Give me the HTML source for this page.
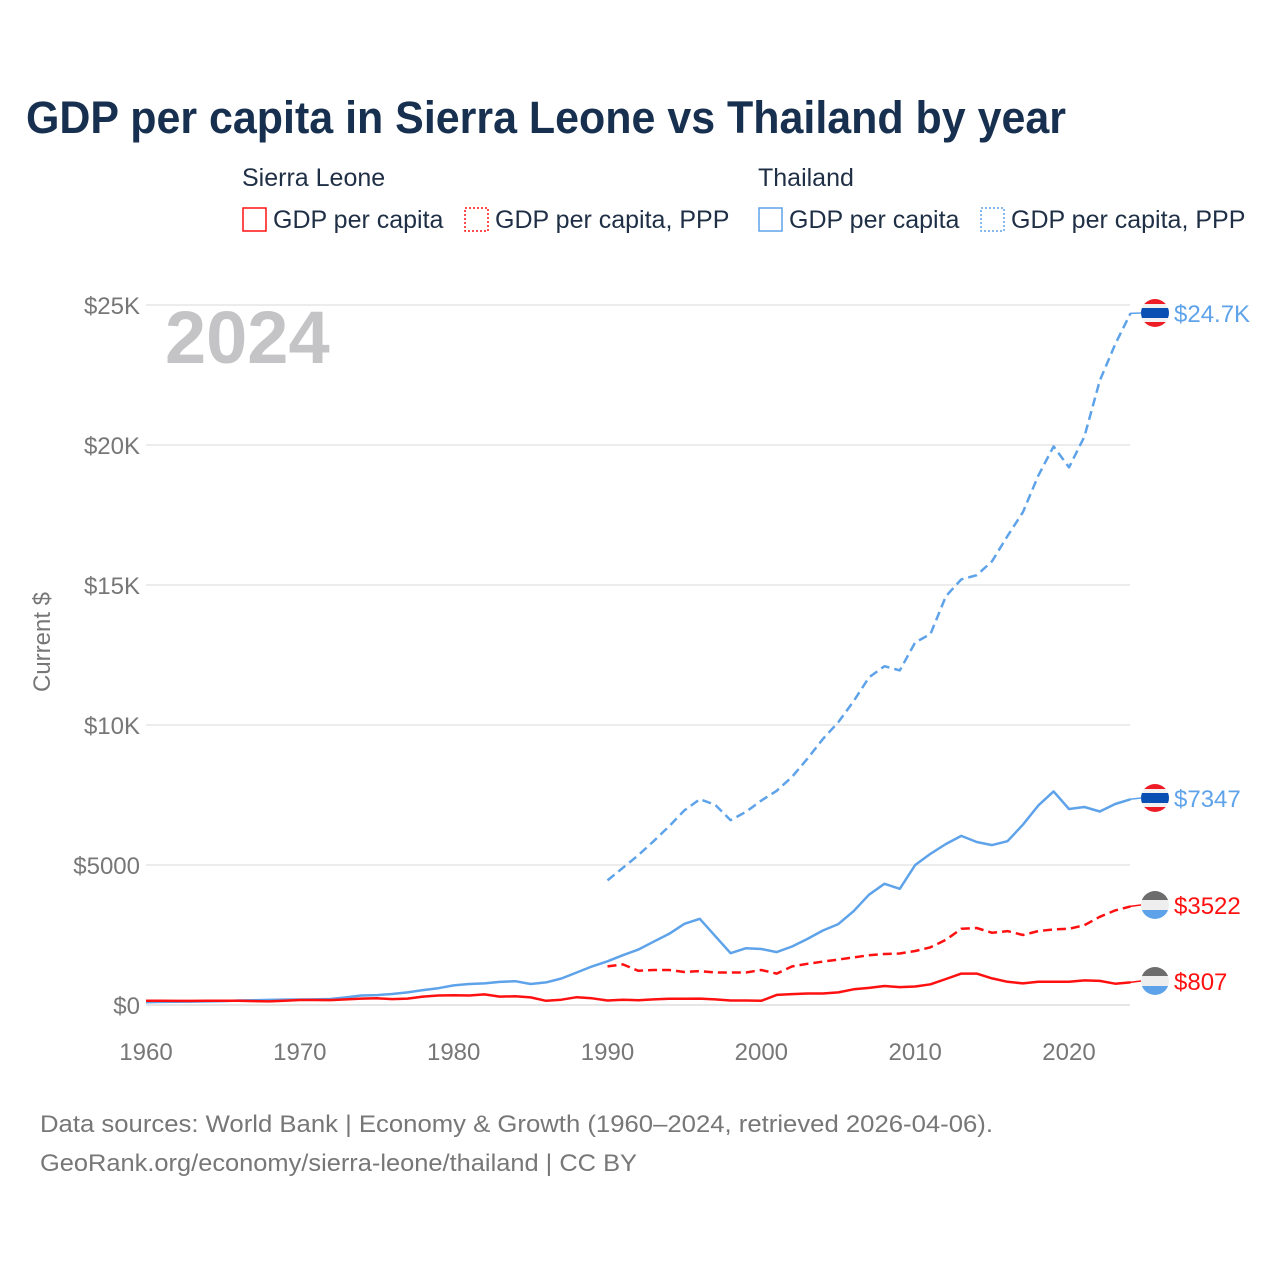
<!DOCTYPE html>
<html><head><meta charset="utf-8"><style>
body{margin:0;background:#fff;font-family:"Liberation Sans",sans-serif}
svg text{font-family:"Liberation Sans",sans-serif}
</style></head><body>
<svg width="1280" height="1280" xmlns="http://www.w3.org/2000/svg">
<text x="26" y="133" font-size="45" font-weight="bold" fill="#17304f" textLength="1040" lengthAdjust="spacingAndGlyphs">GDP per capita in Sierra Leone vs Thailand by year</text>
<g font-size="25" fill="#1f2f45">
<text x="242" y="186">Sierra Leone</text>
<text x="758" y="186">Thailand</text>
<g><rect x="243" y="208" width="23" height="23" fill="none" stroke="#ff1010" stroke-width="1.5"/><text x="273" y="228">GDP per capita</text></g>
<g><rect x="465" y="208" width="23" height="23" fill="none" stroke="#ff1010" stroke-width="1.5" stroke-dasharray="2,2"/><text x="495" y="228">GDP per capita, PPP</text></g>
<g><rect x="759" y="208" width="23" height="23" fill="none" stroke="#5ea3ea" stroke-width="1.5"/><text x="789" y="228">GDP per capita</text></g>
<g><rect x="981" y="208" width="23" height="23" fill="none" stroke="#5ea3ea" stroke-width="1.5" stroke-dasharray="2,2"/><text x="1011" y="228">GDP per capita, PPP</text></g>
</g>
<text x="165" y="363" font-size="74" font-weight="bold" fill="#c4c4c6">2024</text>
<text transform="translate(50,642) rotate(-90)" text-anchor="middle" font-size="24" fill="#777">Current $</text>
<g id="grid"></g><g id="series"></g><g id="ends"></g>
<text x="40" y="1132" font-size="24" fill="#777" textLength="953" lengthAdjust="spacingAndGlyphs">Data sources: World Bank | Economy &amp; Growth (1960–2024, retrieved 2026-04-06).</text>
<text x="40" y="1171" font-size="24" fill="#777" textLength="597" lengthAdjust="spacingAndGlyphs">GeoRank.org/economy/sierra-leone/thailand | CC BY</text>
</svg>
<script>
const yTicks=[0,5000,10000,15000,20000,25000];
const yTickLabels=["$0","$5000","$10K","$15K","$20K","$25K"];
const xTicks=[1960,1970,1980,1990,2000,2010,2020];
const slGdp=[150,150,145,145,150,150,150,140,130,150,180,180,175,200,230,240,210,230,300,340,350,340,380,300,310,270,150,190,280,240,160,190,170,200,220,220,230,200,160,160,150,360,390,410,410,450,560,610,680,640,660,740,930,1120,1120,950,830,770,830,830,830,880,860,760,807];
const thGdp=[101,110,117,122,130,140,160,170,181,192,197,199,215,271,340,352,392,450,531,600,700,750,772,826,849,750,808,945,1160,1380,1560,1780,1980,2260,2540,2900,3080,2460,1850,2030,2000,1890,2090,2360,2660,2890,3350,3940,4330,4150,5000,5400,5750,6040,5820,5710,5850,6440,7120,7630,7000,7070,6910,7180,7347];
const slPpp=[1380,1450,1220,1250,1250,1180,1210,1160,1160,1160,1250,1120,1380,1470,1550,1620,1700,1780,1820,1840,1930,2060,2330,2720,2750,2580,2640,2500,2640,2700,2720,2850,3150,3380,3522];
const thPpp=[4450,4900,5350,5850,6380,6950,7350,7150,6600,6900,7300,7650,8150,8800,9500,10100,10850,11700,12100,11950,12950,13250,14600,15200,15350,15850,16750,17600,18900,19950,19200,20300,22300,23600,24700];
const endLabels=["$24.7K","$7347","$3522","$807"];
const X=y=>146+(y-1960)*(1069-146)/60;
const Y=v=>1005-v*0.028;
const NS="http://www.w3.org/2000/svg";
function mk(t,a,p){const e=document.createElementNS(NS,t);for(const k in a)e.setAttribute(k,a[k]);p.appendChild(e);return e;}
const grid=document.getElementById('grid');
yTicks.forEach((v,i)=>{
 const l=mk('line',{x1:146,x2:1130,y1:Y(v),y2:Y(v),stroke:i==0?'#e6e6e6':'#ececec','stroke-width':2},grid);
 
 
 const t=mk('text',{x:140,y:Y(v)+9,'text-anchor':'end','font-size':24,fill:'#777'},grid);t.textContent=yTickLabels[i];
 
 
});
xTicks.forEach(y=>{
 const t=mk('text',{x:X(y),y:1060,'text-anchor':'middle','font-size':24,fill:'#777'},grid);t.textContent=y;
 
 
});
const ser=document.getElementById('series');
function line(arr,start,color,dash,name){
 const d=arr.map((v,i)=>(i?'L':'M')+X(start+i).toFixed(1)+','+Y(v).toFixed(1)).join('');
 const p=mk('path',{d:d,fill:'none',stroke:color,'stroke-width':2.5,'stroke-linejoin':'round'},ser);
 if(dash)p.setAttribute('stroke-dasharray','9,5');
 
 
}
line(thGdp,1960,'#5ea3ea',false,'line-thailand-gdp');
line(slGdp,1960,'#ff1010',false,'line-sierra-leone-gdp');
line(thPpp,1990,'#5ea3ea',true,'line-thailand-ppp');
line(slPpp,1990,'#ff1010',true,'line-sierra-leone-ppp');
const ends=document.getElementById('ends');
const endVals=[thPpp[thPpp.length-1],thGdp[thGdp.length-1],slPpp[slPpp.length-1],slGdp[slGdp.length-1]];
const endYs=[313,798,905,981];
endVals.forEach((v,i)=>{
 const cy=endYs[i],cx=1155,th=i<2;
 const g=mk('g',{},ends);
 
 
 mk('line',{x1:1130,x2:1141,y1:Y(v),y2:cy,stroke:th?'#5ea3ea':'#ff1010','stroke-width':1.5},g);
 const cp='cp'+i;const c=mk('clipPath',{id:cp},g);mk('circle',{cx:cx,cy:cy,r:14},c);
 const stripes=th?[['#ee1c25',5],['#f1f1f1',4],['#0a50b4',10],['#f1f1f1',4],['#ee1c25',5]]:[['#6d6d6d',9],['#eeeeee',10],['#5ea3ea',9]];
 let yy=cy-14;stripes.forEach(s=>{mk('rect',{x:cx-14,y:yy,width:28,height:s[1],fill:s[0],'clip-path':'url(#'+cp+')'},g);yy+=s[1];});
 const t=mk('text',{x:1174,y:cy+9,'font-size':24,fill:th?'#5ea3ea':'#ff1010'},ends);t.textContent=endLabels[i];
 
 
});
</script>
</body></html>
